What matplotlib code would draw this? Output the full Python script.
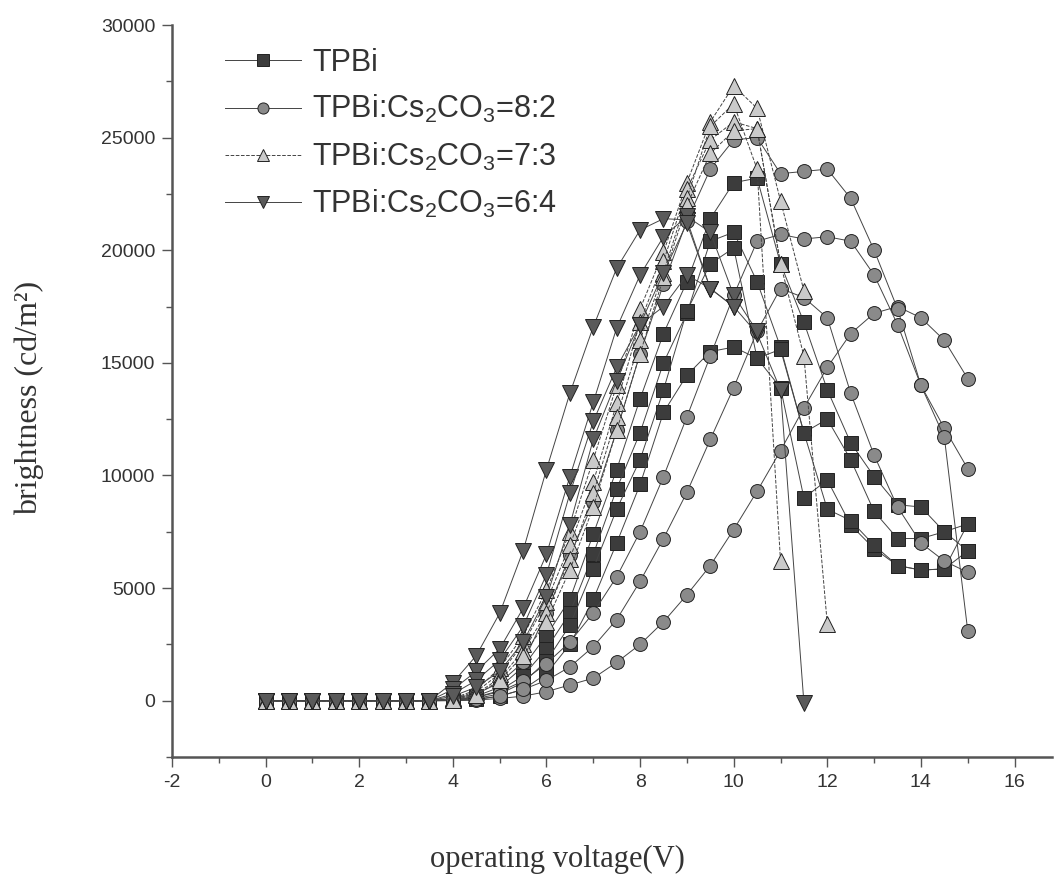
import matplotlib
matplotlib.use('Agg')
import matplotlib.pyplot as plt
from matplotlib.ticker import MultipleLocator

plt.rcParams['font.family'] = ['Liberation Sans', 'DejaVu Sans']
plt.rcParams['mathtext.fontset'] = 'custom'
plt.rcParams['mathtext.rm'] = 'Liberation Sans'
plt.rcParams['axes.unicode_minus'] = False

# operating voltage (V)
V = [0, 0.5, 1, 1.5, 2, 2.5, 3, 3.5, 4, 4.5, 5, 5.5, 6, 6.5, 7, 7.5,
     8, 8.5, 9, 9.5, 10, 10.5, 11, 11.5, 12, 12.5, 13, 13.5, 14, 14.5, 15]
Z = [0, 0, 0, 0, 0, 0, 0, 0]  # 0 .. 3.5 V, no emission

# TPBi (squares)
tpbi = [
    Z + [40, 200, 600, 1500, 2900, 4500, 7400, 10260, 13400, 16300, 18600, 21400,
         23000, 23200, 19400, 16800, 13800, 11450, 9950, 8700, 8600, 7500, 7850],
    Z + [30, 150, 450, 1100, 2300, 3900, 6500, 9400, 11900, 15000, 17200, 20400,
         20800, 18600, 15700, 11900, 12500, 10700, 8400, 7200, 7200, 7500, 6650],
    Z + [20, 100, 300, 800, 1760, 3350, 5860, 8500, 10700, 13800, 17300, 19400,
         20100, 15200, 13900, 9000, 9800, 7800, 6750, 6000, 5800, 5850, 6650],
    Z + [10, 60, 200, 500, 1200, 2500, 4500, 7000, 9600, 12800, 14450, 15500,
         15700, 15200, 15600, 11900, 8500, 8000, 6900, 6000, 5800, 5850, 7850],
]
# TPBi:Cs2CO3 = 8:2 (circles)
r82 = [
    Z + [0, 30, 100, 200, 400, 700, 1000, 1700, 2500, 3500, 4700, 6000,
         7600, 9300, 11100, 13000, 14800, 16300, 17200, 17500, 17000, 16000, 14300],
    Z + [100, 300, 800, 1700, 3900, 6450, 8800, 12000, 15400, 18500, 21300, 23600,
         24900, 25000, 23400, 23500, 23600, 22300, 20000, 17400, 14000, 12100, 10300],
    Z + [30, 150, 400, 870, 1650, 2600, 3900, 5500, 7500, 9950, 12600, 15300,
         18000, 20400, 20700, 20500, 20600, 20400, 18900, 16700, 14000, 11700, 3100],
    Z + [10, 60, 200, 500, 900, 1500, 2400, 3600, 5300, 7200, 9250, 11600,
         13900, 16400, 18300, 17900, 17000, 13650, 10900, 8600, 7000, 6200, 5700],
]
# TPBi:Cs2CO3 = 7:3 (up triangles)
r73 = [
    Z + [100, 480, 1450, 2860, 4900, 7500, 10700, 14000, 17400, 19900, 23000, 25700,
         27300, 26300, 22200, 18200],
    Z + [80, 400, 1200, 2500, 4400, 6900, 9700, 13200, 16800, 19500, 22700, 24900,
         25700, 25400, 19400, 15300, 3400],
    Z + [60, 300, 1000, 2200, 3900, 6300, 9200, 12600, 16000, 19000, 22300, 25500,
         26500, 23600, 6200],
    Z + [50, 250, 900, 2000, 3500, 5800, 8600, 12000, 15400, 18800, 22000, 24300,
         25300, 25400, 19400],
]
# TPBi:Cs2CO3 = 6:4 (down triangles)
r64 = [
    Z + [800, 2000, 3880, 6650, 10260, 13650, 16600, 19200, 20900, 21400, 21350, 18300,
         17500, 16300, 13800, -100],
    Z + [500, 1300, 2300, 4100, 6500, 9950, 13250, 16550, 18900, 20600, 21500, 20800,
         18000, 16400],
    Z + [300, 900, 1800, 3300, 5600, 9200, 12400, 14800, 16700, 17500, 18900, 18300,
         17500],
    Z + [200, 600, 1300, 2600, 4600, 7800, 11600, 14200, 16700, 19000, 21200, 18300],
]

labels = ['TPBi',
          r'TPBi:Cs$_\mathregular{2}$CO$_\mathregular{3}$=8:2',
          r'TPBi:Cs$_\mathregular{2}$CO$_\mathregular{3}$=7:3',
          r'TPBi:Cs$_\mathregular{2}$CO$_\mathregular{3}$=6:4']
groups = [tpbi, r82, r73, r64]
markers = ['s', 'o', '^', 'v']
faces = ['#3c3c3c', '#8a8a8a', '#cacaca', '#5a5a5a']
sizes = [10, 10, 11, 11]
styles = ['-', '-', '--', '-']

fig = plt.figure(figsize=(10.56, 8.75), dpi=100)
ax = fig.add_axes([172 / 1056, 1 - 757 / 875, 880 / 1056, 732 / 875])

for group, lab, m, fc, ms, ls in zip(groups, labels, markers, faces, sizes, styles):
    for i, ys in enumerate(group):
        ax.plot(V[:len(ys)], ys, ls=ls, lw=0.7, color='#444444',
                marker=m, ms=ms, mfc=fc, mec='#222222', mew=0.7,
                label=lab if i == 0 else None)

ax.set_xlim(-2, 16.8)
ax.set_ylim(-2500, 30000)
ax.xaxis.set_major_locator(MultipleLocator(2))
ax.xaxis.set_minor_locator(MultipleLocator(1))
ax.yaxis.set_major_locator(MultipleLocator(5000))
ax.yaxis.set_minor_locator(MultipleLocator(2500))
ax.spines['top'].set_visible(False)
ax.spines['right'].set_visible(False)
for s in ['left', 'bottom']:
    ax.spines[s].set_linewidth(1.8)
    ax.spines[s].set_color('#555555')
ax.tick_params(which='major', direction='out', length=7, width=1, colors='#555555',
               labelsize=14, labelcolor='#333333', pad=5)
ax.tick_params(which='minor', direction='out', length=4, width=1, colors='#555555')

ax.set_xlabel('operating voltage(V)', family='Liberation Serif', fontsize=22, color='#333333')
ax.set_ylabel('brightness (cd/m²)', family='Liberation Serif', fontsize=23, color='#333333')
ax.xaxis.set_label_coords(0.4375, -0.12)
ax.yaxis.set_label_coords(-0.145, 0.49)

leg = ax.legend(loc='upper left', bbox_to_anchor=(225 / 1056, 1 - 48 / 875),
                bbox_transform=fig.transFigure, frameon=False, fontsize=22,
                handlelength=2.5, handletextpad=0.35, labelspacing=0.5,
                borderpad=0, borderaxespad=0, markerscale=0.8)
for t in leg.get_texts():
    t.set_color('#333333')

fig.savefig('out.png', dpi=100)
